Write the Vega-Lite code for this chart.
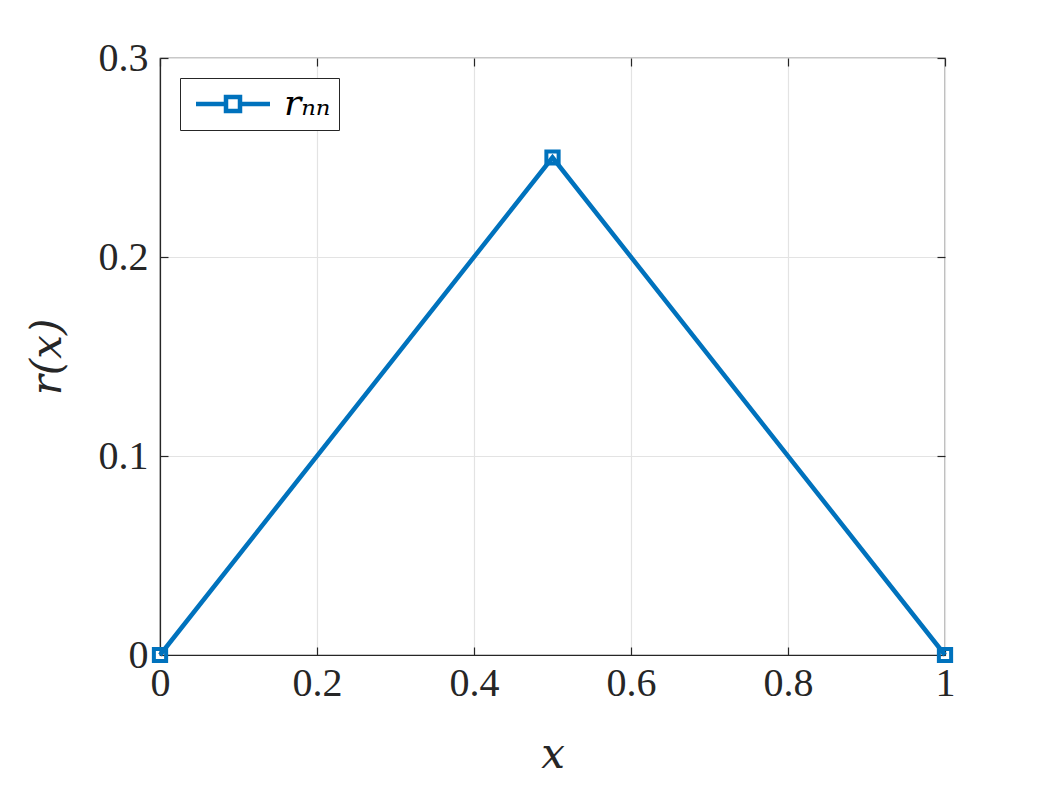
{
  "$schema": "https://vega.github.io/schema/vega-lite/v6.json",
  "autosize": "none",
  "width": 785,
  "height": 597,
  "padding": {"left": 160, "top": 58, "right": 101, "bottom": 130},
  "background": "white",
  "config": {
    "font": "Liberation Serif",
    "view": {"stroke": "#262626", "strokeWidth": 1.2},
    "axis": {
      "domainColor": "#262626",
      "tickColor": "#262626",
      "gridColor": "#e3e3e3",
      "gridWidth": 1.2,
      "labelColor": "#262626",
      "titleColor": "#262626",
      "labelFont": "Liberation Serif",
      "titleFont": "DejaVu Serif",
      "labelFontSize": 40,
      "titleFontSize": 42,
      "titleFontWeight": "normal",
      "titleFontStyle": "italic",
      "labelFlush": false
    },
    "legend": {
      "labelFont": "DejaVu Serif",
      "labelFontSize": 36,
      "labelFontStyle": "italic",
      "labelColor": "#000000"
    }
  },
  "data": {"values": [
    {"x": 0, "r": 0, "series": "rₙₙ"},
    {"x": 0.5, "r": 0.25, "series": "rₙₙ"},
    {"x": 1, "r": 0, "series": "rₙₙ"}
  ]},
  "layer": [
    {
      "layer": [
        {
          "mark": {"type": "line", "strokeWidth": 4.5},
          "encoding": {
            "x": {"field": "x", "type": "quantitative", "scale": {"domain": [0, 1], "nice": false, "zero": false},
              "axis": {"title": "x", "values": [0, 0.2, 0.4, 0.6, 0.8, 1], "format": "~g", "tickSize": -8, "labelPadding": 16, "titleY": 112, "titleBaseline": "alphabetic", "domainWidth": 1.2, "tickWidth": 1.2}},
            "y": {"field": "r", "type": "quantitative", "scale": {"domain": [0, 0.3], "nice": false},
              "axis": {"title": "r(x)", "values": [0, 0.1, 0.2, 0.3], "format": "~g", "tickSize": -8, "labelPadding": 20, "titleX": -100, "titleBaseline": "alphabetic", "domainWidth": 1.2, "tickWidth": 1.2}},
            "color": {"field": "series", "type": "nominal", "scale": {"range": ["#0072BD"]},
              "legend": {
                "title": null,
                "orient": "top-left",
                "offset": 20,
                "strokeColor": "#262626",
                "fillColor": "white",
                "padding": 8,
                "symbolType": "M-1,0H2.0M3.4,0H6.4M2.0,-0.7H3.4V0.7H2.0Z",
                "symbolSize": 400,
                "symbolStrokeWidth": 4.5,
                "symbolFillColor": "transparent",
                "symbolStrokeColor": "#0072BD",
                "labelOffset": 60
              }}
          }
        },
        {
          "mark": {"type": "point", "shape": "square", "filled": false, "size": 150, "strokeWidth": 4, "color": "#0072BD", "opacity": 1},
          "encoding": {
            "x": {"field": "x", "type": "quantitative"},
            "y": {"field": "r", "type": "quantitative"}
          }
        }
      ]
    },
    {
      "mark": {"type": "point", "opacity": 0},
      "encoding": {
        "x": {"field": "x", "type": "quantitative", "scale": {"domain": [0, 1], "nice": false},
          "axis": {"orient": "top", "title": null, "labels": false, "grid": false, "domain": false, "values": [0, 0.2, 0.4, 0.6, 0.8, 1], "tickSize": -8, "tickWidth": 1.2}},
        "y": {"field": "r", "type": "quantitative", "scale": {"domain": [0, 0.3], "nice": false},
          "axis": {"orient": "right", "title": null, "labels": false, "grid": false, "domain": false, "values": [0, 0.1, 0.2, 0.3], "tickSize": -8, "tickWidth": 1.2}}
      }
    }
  ],
  "resolve": {"axis": {"x": "independent", "y": "independent"}}
}
